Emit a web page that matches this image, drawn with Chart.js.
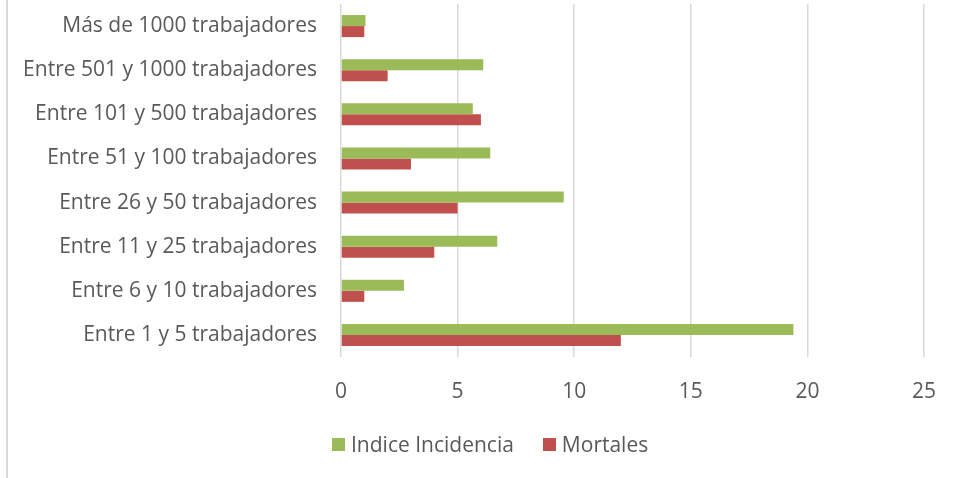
<!DOCTYPE html>
<html>
<head>
<meta charset="utf-8">
<script src="https://cdn.jsdelivr.net/npm/chart.js@4"></script>
<style>
	html, body { margin: 0; padding: 0; background: #fff; overflow: hidden; }
	#wrap { position: relative; width: 958px; height: 478px; }
	#wrap canvas { position: absolute; left: 0; top: 0; }
	#edge { position: absolute; left: 6px; top: 0; bottom: 0; border-left: 2px solid #d9d9d9; }
	#legend { position: absolute; left: 332px; top: 431px; height: 26px; display: flex; align-items: center;
		font-family: 'Open Sans', sans-serif; font-size: 21px; color: #595959; white-space: nowrap; }
	#legend .item { display: flex; align-items: center; margin-right: 29px; }
	#legend .box { width: 13px; height: 13px; margin-right: 6px; }
</style>
</head>
<body>
<div id="wrap">
	<div id="edge"></div>
	<canvas id="chartBar" width="958" height="478"></canvas>
	<div id="legend"></div>
</div>
<script>
var categories = [
	'Más de 1000 trabajadores',
	'Entre 501 y 1000 trabajadores',
	'Entre 101 y 500 trabajadores',
	'Entre 51 y 100 trabajadores',
	'Entre 26 y 50 trabajadores',
	'Entre 11 y 25 trabajadores',
	'Entre 6 y 10 trabajadores',
	'Entre 1 y 5 trabajadores'
];
var indiceIncidencia = [1.05, 6.1, 5.65, 6.4, 9.55, 6.7, 2.7, 19.4];
var mortales = [1, 2, 6, 3, 5, 4, 1, 12];
var xTicks = [0, 5, 10, 15, 20, 25];

(function() {
	'use strict';
	var textColor = '#595959';
	var font = { family: "'Open Sans', sans-serif", size: 21 };

	var ctx = document.getElementById('chartBar');
	var chart = new Chart(ctx, {
		type: 'bar',
		data: {
			labels: categories,
			datasets: [{
				label: 'Indice Incidencia',
				data: indiceIncidencia,
				backgroundColor: '#9bbb59'
			}, {
				label: 'Mortales',
				data: mortales,
				backgroundColor: '#c0504d'
			}]
		},
		options: {
			indexAxis: 'y',
			responsive: false,
			animation: false,
			categoryPercentage: 0.5,
			barPercentage: 1,
			layout: {
				autoPadding: false,
				padding: { top: 4, right: 34, left: 0, bottom: 71 }
			},
			plugins: {
				legend: {
					display: false
				},
				tooltip: {
					enabled: false
				}
			},
			scales: {
				x: {
					min: 0,
					max: 25,
					afterFit: function(scale) {
						scale.height = 50;
						scale.paddingLeft = 0;
						scale.paddingRight = 0;
					},
					afterBuildTicks: function(scale) {
						scale.ticks = xTicks.map(function(v) { return { value: v }; });
					},
					ticks: {
						padding: 22,
						color: textColor,
						font: font
					},
					grid: {
						color: '#d9d9d9',
						lineWidth: 1.5,
						drawTicks: false
					},
					border: {
						display: false
					}
				},
				y: {
					afterFit: function(scale) {
						scale.width = 341;
						scale.paddingTop = 0;
						scale.paddingBottom = 0;
					},
					ticks: {
						padding: 24,
						color: textColor,
						font: font
					},
					grid: {
						display: false,
						drawTicks: false
					},
					border: {
						display: false
					}
				}
			}
		}
	});

	// html legend from the datasets
	var legend = document.getElementById('legend');
	chart.data.datasets.forEach(function(ds) {
		var item = document.createElement('span');
		item.className = 'item';
		var box = document.createElement('span');
		box.className = 'box';
		box.style.background = ds.backgroundColor;
		item.appendChild(box);
		item.appendChild(document.createTextNode(ds.label));
		legend.appendChild(item);
	});
})();
</script>
</body>
</html>
